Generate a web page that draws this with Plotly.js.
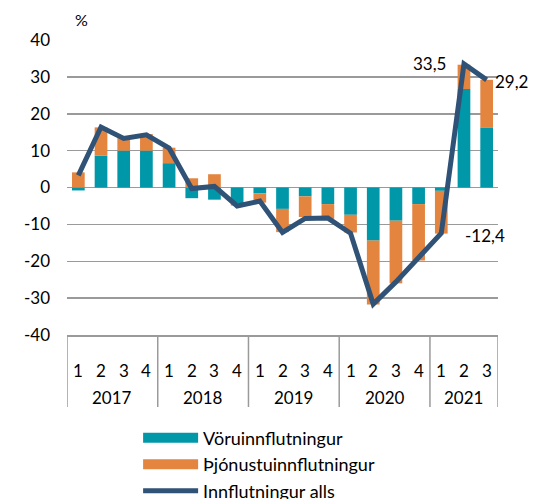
<!DOCTYPE html>
<html>
<head>
<meta charset="utf-8">
<script src="https://cdn.plot.ly/plotly-3.0.1.min.js"></script>
<style>html,body{margin:0;padding:0;background:#fff;}#chart{width:542px;height:499px;}</style>
</head>
<body>
<div id="chart"></div>
<script>
// ---- data ----
const years = ['2017','2017','2017','2017','2018','2018','2018','2018','2019','2019','2019','2019','2020','2020','2020','2020','2021','2021','2021'];
const quarters = ['1','2','3','4','1','2','3','4','1','2','3','4','1','2','3','4','1','2','3'];
const goods = [-0.8, 8.6, 10.0, 10.0, 6.6, -2.9, -3.3, -4.3, -1.6, -5.8, -2.4, -4.5, -7.4, -14.4, -9.0, -4.5, -0.9, 26.7, 16.3];
const services = [4.1, 7.7, 3.4, 4.5, 4.2, 2.5, 3.6, -0.6, -2.5, -6.3, -5.6, -4.0, -4.8, -17.3, -17.0, -15.3, -11.6, 6.6, 12.9];
const total = [3.3, 16.4, 13.3, 14.3, 10.7, -0.3, 0.3, -5.0, -3.7, -12.2, -8.4, -8.3, -12.4, -31.6, -25.6, -19.0, -12.4, 33.5, 29.2];
const seriesNames = ['Vöruinnflutningur', 'Þjónustuinnflutningur', 'Innflutningur alls'];
const labelledPoints = [16, 17, 18];
const yTicks = [-40, -30, -20, -10, 0, 10, 20, 30, 40];

// ---- styles ----
const FONT = 'Lato, "Liberation Sans", sans-serif';
const TEAL = '#0097A9';
const ORANGE = '#E3843F';
const NAVY = '#2F5276';
const GRID = '#9A9A9A';
const PLOT_H = 499 - 40 - 164;
const QUARTER_SHIFT = -35, YEAR_SHIFT = -62, DIVIDER_DEPTH = 72;
const labelStyle = {
  16: {xanchor: 'left', xshift: 22, yshift: -2},
  17: {xanchor: 'right', xshift: -16, yshift: 0},
  18: {xanchor: 'left', xshift: 6, yshift: -2}
};

const x = [years, quarters];
const nulls = total.map(() => null);

const traces = [
  {type: 'bar', x: x, y: goods, name: seriesNames[0], marker: {color: TEAL}, showlegend: false, hoverinfo: 'skip'},
  {type: 'bar', x: x, y: services, name: seriesNames[1], marker: {color: ORANGE}, showlegend: false, hoverinfo: 'skip'},
  {type: 'scatter', mode: 'lines', x: x, y: nulls, name: seriesNames[0], line: {color: TEAL, width: 11}, showlegend: true},
  {type: 'scatter', mode: 'lines', x: x, y: nulls, name: seriesNames[1], line: {color: ORANGE, width: 11}, showlegend: true},
  {type: 'scatter', mode: 'lines', x: x, y: total, name: seriesNames[2], line: {color: NAVY, width: 5, shape: 'linear'}, showlegend: true}
];

const fmt = v => v.toFixed(1).replace('.', ',');
const txtFont = {family: FONT, size: 17, color: '#000'};
const annotations = labelledPoints.map(i => Object.assign({
  x: i, y: total[i], xref: 'x', yref: 'y', text: fmt(total[i]), showarrow: false,
  yanchor: 'middle', font: txtFont
}, labelStyle[i]));
annotations.push({
  xref: 'paper', yref: 'paper', x: 0.034, y: 1.068, text: '%', showarrow: false,
  xanchor: 'center', yanchor: 'middle', font: {family: FONT, size: 16, color: '#000'}
});

// category axis labels (quarters and years) and group dividers
quarters.forEach((q, i) => annotations.push({
  x: i, xref: 'x', y: 0, yref: 'paper', yshift: QUARTER_SHIFT, text: q, showarrow: false,
  xanchor: 'center', yanchor: 'middle', font: txtFont
}));
const groups = [];
years.forEach((yr, i) => {
  if (!groups.length || groups[groups.length - 1].year !== yr) groups.push({year: yr, start: i, end: i});
  else groups[groups.length - 1].end = i;
});
const shapes = [];
groups.forEach(g => {
  annotations.push({
    x: (g.start + g.end) / 2, xref: 'x', y: 0, yref: 'paper', yshift: YEAR_SHIFT, text: g.year,
    showarrow: false, xanchor: 'center', yanchor: 'middle', font: txtFont
  });
  shapes.push({type: 'line', xref: 'x', yref: 'paper', x0: g.start - 0.5, x1: g.start - 0.5,
    y0: 0, y1: -DIVIDER_DEPTH / PLOT_H, line: {color: GRID, width: 1.5}});
});
const last = groups[groups.length - 1];
shapes.push({type: 'line', xref: 'x', yref: 'paper', x0: last.end + 0.5, x1: last.end + 0.5,
  y0: 0, y1: -DIVIDER_DEPTH / PLOT_H, line: {color: GRID, width: 1.5}});

const layout = {
  width: 542, height: 499,
  margin: {l: 66.5, r: 43.5, t: 40, b: 164, pad: 0},
  paper_bgcolor: '#fff', plot_bgcolor: '#fff',
  font: {family: FONT, size: 17, color: '#000'},
  barmode: 'relative',
  bargap: 0.44,
  xaxis: {
    type: 'multicategory', automargin: false,
    range: [-0.5, total.length - 0.5], autorange: false,
    showgrid: false, zeroline: false,
    showline: true, linecolor: GRID, linewidth: 1.5,
    showdividers: false, showticklabels: false, ticks: ''
  },
  yaxis: {
    automargin: false,
    range: [-40, 40], autorange: false, tickvals: yTicks, ticktext: yTicks.map(String),
    showgrid: true, gridcolor: GRID, gridwidth: 1.5,
    zeroline: true, zerolinecolor: GRID, zerolinewidth: 1.5,
    showline: false, ticks: '', ticklabelstandoff: 16,
    tickfont: txtFont
  },
  showlegend: true,
  legend: {
    orientation: 'v', xref: 'paper', yref: 'container',
    x: 0.165, y: 0.159, xanchor: 'left', yanchor: 'top',
    itemwidth: 55, font: {family: FONT, size: 18, color: '#000'},
    bgcolor: 'rgba(0,0,0,0)', tracegroupgap: 0
  },
  shapes: shapes,
  annotations: annotations
};

Plotly.newPlot('chart', traces, layout, {displayModeBar: false, staticPlot: true});
</script>
</body>
</html>
